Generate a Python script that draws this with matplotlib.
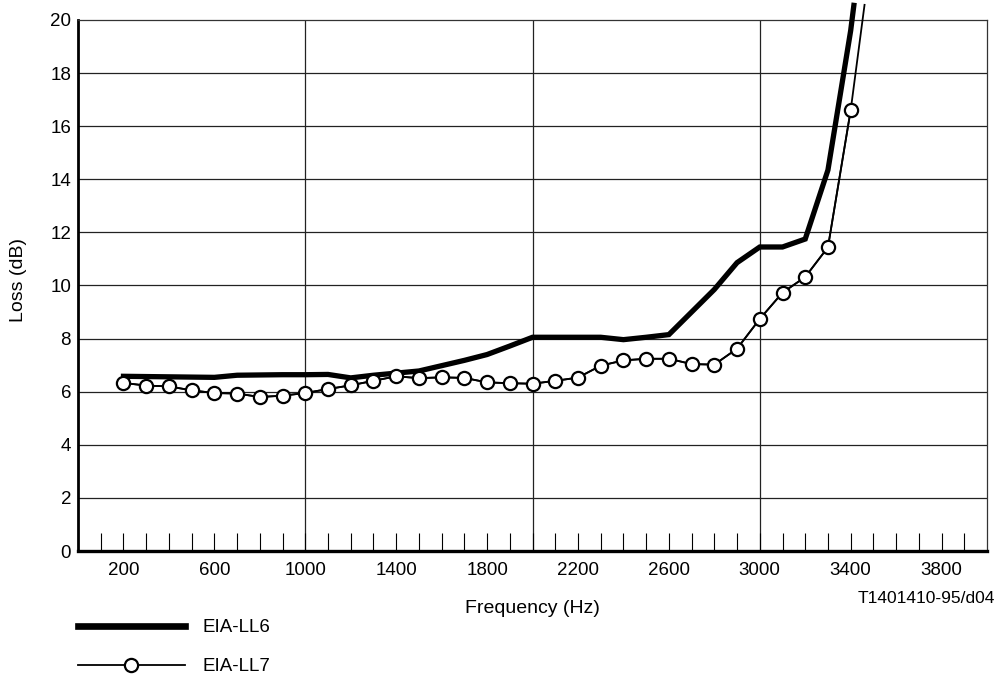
import matplotlib
matplotlib.use("Agg")
from matplotlib import pyplot as plt

plt.rcParams['font.family'] = ['Liberation Sans', 'DejaVu Sans']

# EIA-LL6 (thick line, no markers)
freq_ll6 = [200, 300, 400, 500, 600, 700, 800, 900, 1000, 1100, 1200, 1300, 1400,
            1500, 1600, 1700, 1800, 1900, 2000, 2100, 2200, 2300, 2400, 2500,
            2600, 2700, 2800, 2900, 3000, 3100, 3200, 3300, 3400, 3414]
loss_ll6 = [6.58, 6.57, 6.56, 6.55, 6.54, 6.62, 6.63, 6.64, 6.64, 6.65, 6.52, 6.62, 6.70,
            6.78, 6.98, 7.18, 7.40, 7.72, 8.05, 8.05, 8.05, 8.05, 7.96, 8.05,
            8.15, 9.00, 9.85, 10.86, 11.45, 11.45, 11.75, 14.35, 19.6, 20.55]

# EIA-LL7 (thin line, open circles)
freq_ll7 = list(range(200, 3500, 100))
loss_ll7 = [6.33, 6.23, 6.20, 6.05, 5.95, 5.93, 5.80, 5.85, 5.95, 6.10, 6.24, 6.41, 6.58,
            6.51, 6.54, 6.52, 6.35, 6.32, 6.30, 6.41, 6.53, 6.98, 7.18, 7.24,
            7.24, 7.04, 7.02, 7.62, 8.74, 9.73, 10.32, 11.44, 16.6]
tail_ll7 = (3461, 20.57)  # where the curve leaves the top of the chart

xlabels = list(range(200, 4000, 400))
ylabels = list(range(0, 21, 2))

fig = plt.figure(figsize=(9.98, 6.75), dpi=100)
ax = fig.add_axes([0.0782, 0.1837, 0.9108, 0.7867])
ax.set_xlim(0, 4000)
ax.set_ylim(0, 20)

# grid
for y in ylabels[1:-1]:
    ax.axhline(y, color='#222222', lw=0.9, zorder=1)
for x in [1000, 2000, 3000]:
    ax.axvline(x, color='#222222', lw=0.9, zorder=1)

ax.plot(freq_ll6, loss_ll6, color='black', lw=3.8, solid_joinstyle='miter',
        clip_on=False, zorder=3, label='EIA-LL6')
ax.plot(freq_ll7 + [tail_ll7[0]], loss_ll7 + [tail_ll7[1]], color='black', lw=1.3,
        clip_on=False, zorder=4)
ax.plot(freq_ll7, loss_ll7, color='black', lw=1.3, marker='o', ms=9.5,
        mfc='white', mec='black', mew=1.6, zorder=5, label='EIA-LL7')

# ticks
ax.set_xticks(range(100, 4000, 100), minor=True)
ax.set_xticks(xlabels)
ax.set_xticklabels([str(v) for v in xlabels], fontsize=13.5)
ax.tick_params(axis='x', which='minor', direction='in', length=13, width=0.8)
ax.tick_params(axis='x', which='major', direction='in', length=13, width=0.8, pad=8)
ax.set_yticks(ylabels)
ax.set_yticklabels([str(v) for v in ylabels], fontsize=13.5)
ax.tick_params(axis='y', length=0, pad=5)

for side in ['top', 'right']:
    ax.spines[side].set_linewidth(0.9)
    ax.spines[side].set_color('#333333')
ax.spines['left'].set_linewidth(2.0)
ax.spines['bottom'].set_linewidth(2.4)

ax.set_xlabel('Frequency (Hz)', fontsize=14, labelpad=15)
ax.set_ylabel('Loss (dB)', fontsize=14)
ax.yaxis.set_label_coords(-0.056, 0.51)

fig.text(0.997, 0.114, 'T1401410-95/d04', ha='right', va='center', fontsize=12.5)

leg = ax.legend(loc='upper left', bbox_to_anchor=(0.078, 0.083), bbox_transform=fig.transFigure,
                frameon=False, fontsize=13.5, handlelength=5.7, handletextpad=0.96,
                labelspacing=1.17, borderpad=0, borderaxespad=0)
leg.get_lines()[0].set_linewidth(4.8)

fig.savefig('out.png', dpi=100)
